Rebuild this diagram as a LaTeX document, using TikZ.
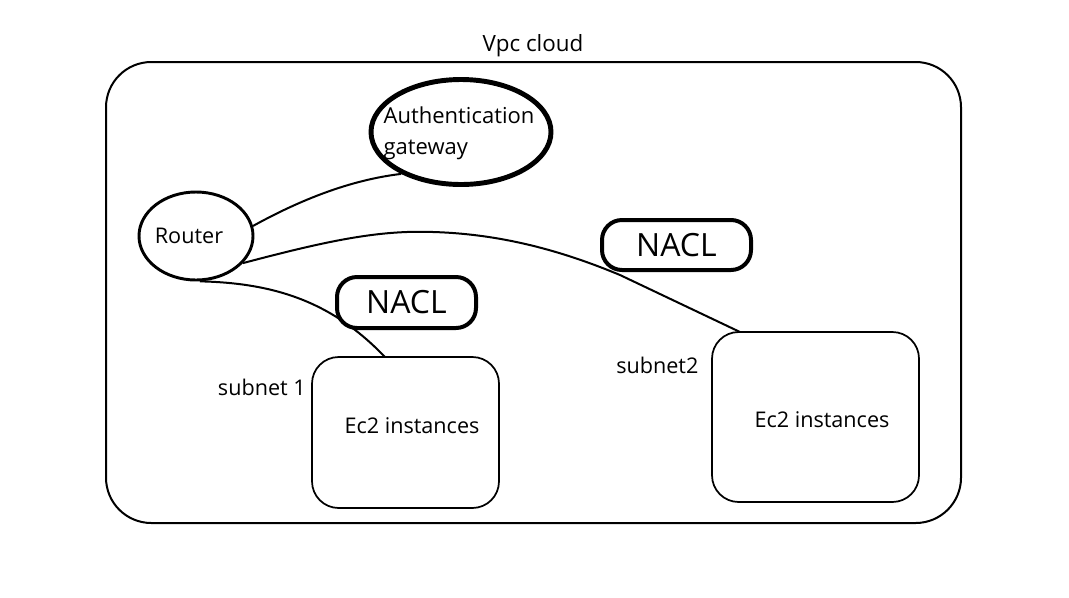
\documentclass[tikz,border=0pt]{standalone}
\usepackage{fontspec}
\setmainfont{Open Sans}
\usetikzlibrary{shapes.geometric}
\begin{document}
\begin{tikzpicture}[x=0.75pt,y=-0.75pt,
  txt/.style={inner sep=0pt,font=\fontsize{16.2}{19}\selectfont},
  naclbox/.style={draw,line width=3pt,rounded corners=15pt,fill=white,minimum width=139*0.75pt,minimum height=51*0.75pt,inner sep=0pt,font=\fontsize{24}{28}\selectfont},
  subnetbox/.style={draw,line width=1.3pt,rounded corners=20pt,inner sep=0pt},
  link/.style={line width=1.5pt}]
\useasboundingbox (0,0) rectangle (1069,597);
% outer cloud
\node[draw,line width=1.5pt,rounded corners=34pt,minimum width=855*0.75pt,minimum height=461*0.75pt,inner sep=0pt] (vpc) at (533.5,292.5) {};
\node[txt,font=\fontsize{16.8}{20}\selectfont] (vpclabel) at (533,46) {Vpc cloud};
% router
\node[draw,ellipse,line width=2.2pt,minimum width=114*0.75pt,minimum height=88*0.75pt,inner sep=0pt] (router) at (196,236) {};
\node[txt] (routertext) at (189,236) {Router};
% auth
\node[draw,ellipse,line width=3.7pt,minimum width=180*0.75pt,minimum height=105*0.75pt,inner sep=0pt] (auth) at (461,132) {};
\node[txt,font=\fontsize{16.5}{23}\selectfont,align=left] (authtext) at (459,133) {Authentication\\gateway};
% subnets
\node[subnetbox,minimum width=187*0.75pt,minimum height=151*0.75pt] (s1) at (405.5,432.5) {};
\node[txt] (s1text) at (412,426) {Ec2 instances};
\node[txt,anchor=east] (s1label) at (306,387) {subnet 1};
\node[subnetbox,minimum width=207*0.75pt,minimum height=170*0.75pt] (s2) at (815.5,417) {};
\node[txt] (s2text) at (822,420) {Ec2 instances};
\node[txt,anchor=west] (s2label) at (616,365) {subnet2};
\coordinate (s1in) at (385,357);
\coordinate (s2in) at (740,332);
% links
\draw[link] (router.10) .. controls (300,200) and (350,180) .. (auth.215);
\draw[link] (router.-30) .. controls (330,240) and (380,230) .. (433,232)
   .. controls (500,234) and (560,250) .. (620,275) -- (s2in);
\draw[link] (router.-85) .. controls (280,283) and (335,305) .. (s1in);
% NACL boxes
\node[naclbox] (nacl1) at (406.5,302.5) {NACL};
\node[naclbox,minimum width=149*0.75pt,minimum height=50*0.75pt] (nacl2) at (676.5,245) {NACL};
\end{tikzpicture}
\end{document}
